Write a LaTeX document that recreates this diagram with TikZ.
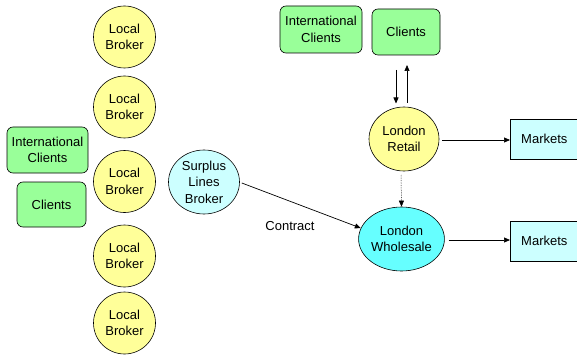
\documentclass[tikz,border=0pt]{standalone}
\usepackage{fontspec}
\setmainfont{Liberation Sans}
\usetikzlibrary{arrows.meta,shapes.geometric}
\definecolor{brokerfill}{HTML}{FFFF99}
\definecolor{clientfill}{HTML}{99FF99}
\definecolor{marketfill}{HTML}{CCFFFF}
\definecolor{surplusfill}{HTML}{CCFFFF}
\definecolor{wholesalefill}{HTML}{66FFFF}
\tikzset{
  every node/.style={font=\fontsize{13}{16.5}\selectfont, align=center, inner sep=0pt},
  broker/.style={ellipse, draw, line width=0.6pt, fill=brokerfill, minimum width=62pt, minimum height=62pt},
  oval/.style={ellipse, draw, line width=0.6pt, minimum width=70pt, minimum height=64pt},
  client/.style={rounded corners=6pt, draw, line width=0.6pt, fill=clientfill},
  market/.style={draw, line width=0.6pt, fill=marketfill, minimum width=68pt, minimum height=40pt},
  link/.style={line width=0.7pt, -{Triangle[length=6pt,width=5pt]}}
}
\begin{document}
\begin{tikzpicture}[x=1pt,y=-1pt]
\useasboundingbox (0,0) rectangle (577,358);
% column of local brokers
\node[broker] (lb1) at (124.5,37) {Local\\Broker};
\node[broker] (lb2) at (124.5,107) {Local\\Broker};
\node[broker] (lb3) at (124.5,181.5) {Local\\Broker};
\node[broker] (lb4) at (124.5,256) {Local\\Broker};
\node[broker] (lb5) at (124.5,323) {Local\\Broker};
% clients on the left
\node[client, minimum width=81pt, minimum height=46pt] (ic1) at (47.5,150) {International\\Clients};
\node[client, minimum width=69pt, minimum height=45pt] (cl1) at (51.5,204.5) {Clients};
% surplus lines broker
\node[oval, fill=surplusfill, minimum width=71pt] (slb) at (204,182) {Surplus\\Lines\\Broker};
% clients at the top
\node[client, minimum width=82pt, minimum height=47pt] (ic2) at (321,29.5) {International\\Clients};
\node[client, minimum width=68pt, minimum height=46pt] (cl2) at (406,32) {Clients};
% London markets
\node[oval, fill=brokerfill] (lr) at (404,139) {London\\Retail};
\node[oval, fill=wholesalefill, minimum width=69pt] (lw) at (401.5,239) {London\\Wholesale};
\node[market, anchor=west] (m1) at (510,139) {Markets};
\node[market, anchor=west] (m2) at (510,241) {Markets};
% contract label
\node (ct) at (290,226) {Contract};
% connectors
\coordinate (cdTop) at (396,70);
\coordinate (cdBot) at (396,103.5);
\coordinate (cuTop) at (407,65);
\coordinate (cuBot) at (407,103);
\draw[link] (cdTop) -- (cdBot);
\draw[link] (cuBot) -- (cuTop);
\draw[link] (lr.east) ++(3,1) -- (m1.west |- 0,140);
\draw[link] (lw.east) ++(4,1) -- (m2.west |- 0,240);
\draw[link, densely dotted, line width=0.5pt] (401,175) -- (lw.north);
\draw[link] (slb.east) ++(2,1) -- (lw.165);
\end{tikzpicture}
\end{document}
